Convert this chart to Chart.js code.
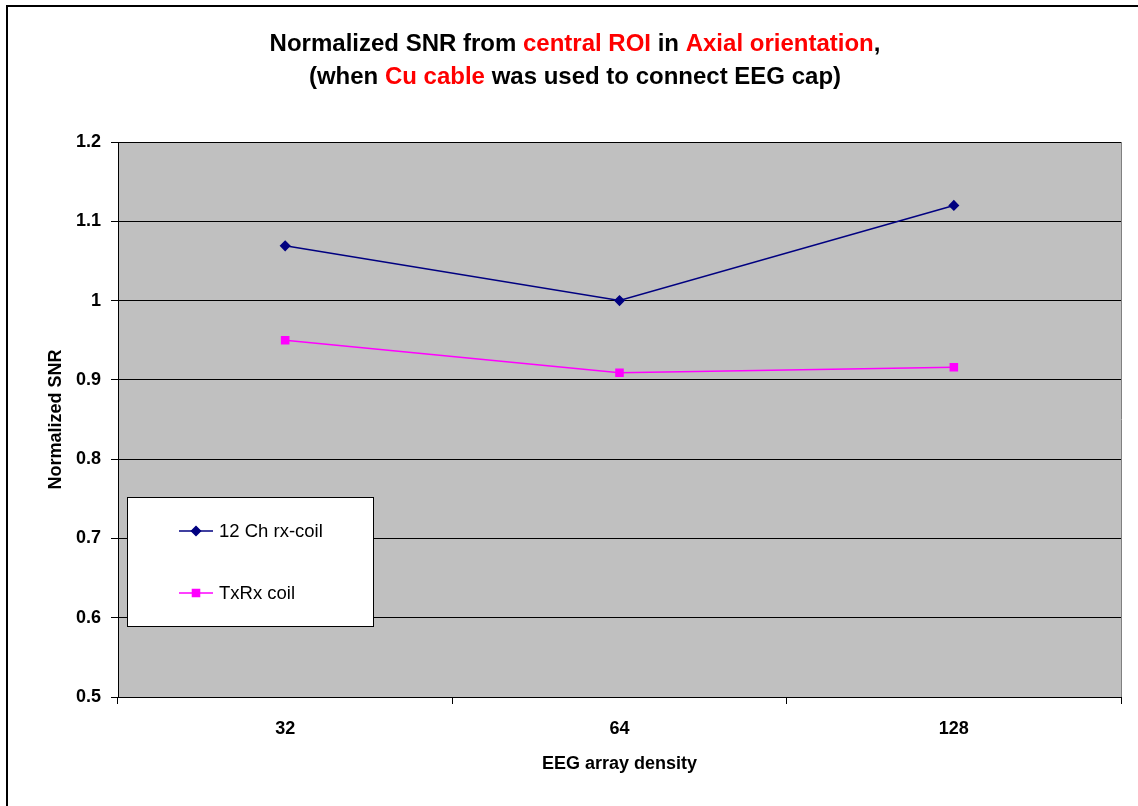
<!DOCTYPE html>
<html>
<head>
<meta charset="utf-8">
<title>Normalized SNR - central ROI, Axial</title>
<script src="https://cdn.jsdelivr.net/npm/chart.js@4/dist/chart.umd.min.js"></script>
<style>
    html, body { margin: 0; padding: 0; background: #fff; }
    #wrap { position: relative; width: 1138px; height: 806px; }
</style>
</head>
<body>
<div id="wrap"><canvas id="snr-chart" width="1138" height="806"></canvas></div>
<script>
// EEG cap densities on the x axis
const densities = ['32', '64', '128'];

// normalized SNR per coil
const rxCoilSnr = [1.069, 1.0, 1.12];
const txRxCoilSnr = [0.95, 0.909, 0.916];

const seriesNames = ['12 Ch rx-coil', 'TxRx coil'];

// title lines, split in [text, colour] pieces
const titleLine1 = [['Normalized SNR from ', '#000'], ['central ROI', '#ff0000'], [' in ', '#000'],
    ['Axial orientation', '#ff0000'], [',', '#000']];
const titleLine2 = [['(when ', '#000'], ['Cu cable', '#ff0000'], [' was used to connect EEG cap)', '#000']];

const FONT = '"Liberation Sans", Arial, Helvetica, sans-serif';

// outer frame, grey plot background and the mixed colour title
const backdrop = {
    id: 'backdrop',
    beforeDraw: function (chart) {
        const ctx = chart.ctx;
        const a = chart.chartArea;
        ctx.save();
        ctx.fillStyle = '#000';
        ctx.fillRect(6, 5, chart.width, 2);
        ctx.fillRect(6, 5, 2, chart.height);
        ctx.fillStyle = '#c0c0c0';
        ctx.fillRect(a.left, a.top, a.right - a.left, a.bottom - a.top);
        ctx.strokeStyle = '#808080';
        ctx.lineWidth = 1;
        ctx.beginPath();
        ctx.moveTo(a.right + 0.5, a.top);
        ctx.lineTo(a.right + 0.5, a.bottom);
        ctx.stroke();
        ctx.restore();
    },
    afterDraw: function (chart) {
        const ctx = chart.ctx;
        ctx.save();
        ctx.font = 'bold 24px ' + FONT;
        ctx.textBaseline = 'middle';
        [[titleLine1, 44], [titleLine2, 77]].forEach(function (line) {
            const parts = line[0];
            let total = 0;
            parts.forEach(function (p) { total += ctx.measureText(p[0]).width; });
            let x = 575 - total / 2;
            parts.forEach(function (p) {
                ctx.fillStyle = p[1];
                ctx.fillText(p[0], x, line[1]);
                x += ctx.measureText(p[0]).width;
            });
        });
        ctx.restore();
    }
};

// boxed legend sitting inside the plot area
const boxLegend = {
    id: 'boxLegend',
    afterDatasetsDraw: function (chart) {
        const ctx = chart.ctx;
        const box = {x: 127, y: 497, w: 246, h: 129};
        const rows = [531, 593];
        ctx.save();
        ctx.fillStyle = '#fff';
        ctx.fillRect(box.x, box.y, box.w, box.h);
        ctx.strokeStyle = '#000';
        ctx.lineWidth = 1;
        ctx.strokeRect(box.x + 0.5, box.y + 0.5, box.w, box.h);
        chart.data.datasets.forEach(function (ds, i) {
            const y = rows[i];
            ctx.strokeStyle = ds.borderColor;
            ctx.lineWidth = 1.5;
            ctx.beginPath();
            ctx.moveTo(179, y);
            ctx.lineTo(213, y);
            ctx.stroke();
            ctx.fillStyle = ds.pointBackgroundColor;
            ctx.strokeStyle = ds.pointBorderColor;
            Chart.helpers.drawPoint(ctx, {
                pointStyle: ds.pointStyle,
                radius: ds.pointRadius,
                borderWidth: 1,
                rotation: 0
            }, 196, y);
            ctx.fillStyle = '#000';
            ctx.font = '18.5px ' + FONT;
            ctx.textBaseline = 'middle';
            ctx.fillText(ds.label, 219, y + 1);
        });
        ctx.restore();
    }
};

new Chart(document.getElementById('snr-chart').getContext('2d'), {
    type: 'line',
    data: {
        labels: densities,
        datasets: [{
            label: seriesNames[0],
            data: rxCoilSnr,
            borderColor: '#000080',
            backgroundColor: '#000080',
            pointBackgroundColor: '#000080',
            pointBorderColor: '#000080',
            pointStyle: 'rectRot',
            pointRadius: 4.5,
            borderWidth: 1.5,
            tension: 0
        }, {
            label: seriesNames[1],
            data: txRxCoilSnr,
            borderColor: '#ff00ff',
            backgroundColor: '#ff00ff',
            pointBackgroundColor: '#ff00ff',
            pointBorderColor: '#ff00ff',
            pointStyle: 'rect',
            pointRadius: 5,
            borderWidth: 1.5,
            tension: 0
        }]
    },
    options: {
        responsive: false,
        animation: false,
        devicePixelRatio: 1,
        layout: {padding: {top: 142, right: 17, bottom: 29, left: 0}},
        plugins: {
            legend: {display: false},
            title: {display: false},
            tooltip: {enabled: false}
        },
        scales: {
            x: {
                offset: true,
                grid: {
                    offset: true,
                    drawOnChartArea: false,
                    drawTicks: true,
                    tickLength: 7,
                    color: '#000'
                },
                border: {color: '#000', width: 1},
                ticks: {
                    color: '#000',
                    padding: 14,
                    font: {family: FONT, size: 18, weight: 'bold'}
                },
                title: {
                    display: true,
                    text: 'EEG array density',
                    color: '#000',
                    padding: {top: 0, bottom: 2},
                    font: {family: FONT, size: 18, weight: 'bold'}
                },
                afterFit: function (scale) { scale.height = 80; }
            },
            y: {
                min: 0.5,
                max: 1.2,
                grid: {
                    color: '#000',
                    lineWidth: 1,
                    tickLength: 7
                },
                border: {color: '#000', width: 1},
                ticks: {
                    stepSize: 0.1,
                    color: '#000',
                    padding: 10,
                    font: {family: FONT, size: 18, weight: 'bold'},
                    callback: function (v) { return String(Number(v.toFixed(1))); }
                },
                title: {
                    display: true,
                    text: 'Normalized SNR',
                    color: '#000',
                    padding: {top: 45, bottom: 0},
                    font: {family: FONT, size: 18, weight: 'bold'}
                },
                afterFit: function (scale) { scale.width = 118; }
            }
        }
    },
    plugins: [backdrop, boxLegend]
});
</script>
</body>
</html>
